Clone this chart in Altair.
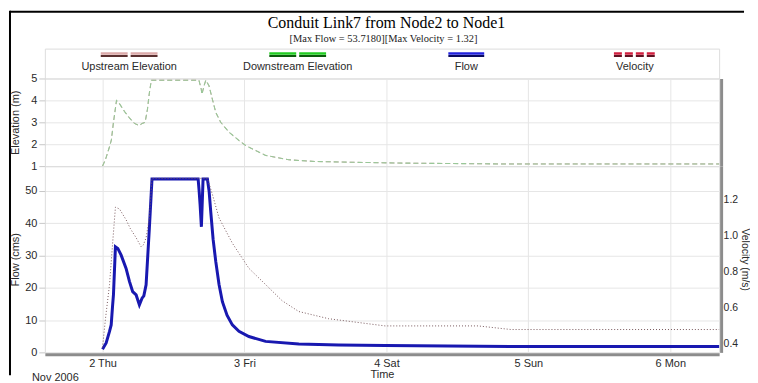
import altair as alt
import pandas as pd

TITLE = "Conduit Link7 from Node2 to Node1"
SUBTITLE = "[Max Flow = 53.7180][Max Velocity = 1.32]"
LEGEND_NAMES = ["Upstream Elevation", "Downstream Elevation", "Flow", "Velocity"]
DATE_NOTE = "Nov 2006"
X_TITLE = "Time"
ELEV_TITLE = "Elevation (m)"
FLOW_TITLE = "Flow (cms)"
VEL_TITLE = "Velocity (m/s)"
DAY_TICKS = [2, 3, 4, 5, 6]
ELEV_TICKS = [1, 2, 3, 4, 5]
FLOW_TICKS = [0, 10, 20, 30, 40, 50]
VEL_TICKS = [0.4, 0.6, 0.8, 1.0, 1.2]

elev_time = [
    "2006-11-02T00:00", "2006-11-02T00:30", "2006-11-02T01:12", "2006-11-02T01:30",
    "2006-11-02T01:51", "2006-11-02T02:22", "2006-11-02T02:52", "2006-11-02T03:42",
    "2006-11-02T04:33", "2006-11-02T05:24", "2006-11-02T06:12", "2006-11-02T06:42",
    "2006-11-02T07:12", "2006-11-02T07:36", "2006-11-02T07:54", "2006-11-02T08:15",
    "2006-11-02T16:18", "2006-11-02T16:42", "2006-11-02T16:48", "2006-11-02T17:12",
    "2006-11-02T17:28", "2006-11-02T18:00", "2006-11-02T18:34", "2006-11-02T19:09",
    "2006-11-02T19:59", "2006-11-02T21:23", "2006-11-02T23:04", "2006-11-03T00:12",
    "2006-11-03T03:34", "2006-11-03T07:30", "2006-11-03T12:00", "2006-11-03T17:36",
    "2006-11-04T02:00", "2006-11-04T10:24", "2006-11-04T18:54", "2006-11-06T08:15",
]
upstream_elev = [
    1.0, 1.3, 1.9, 2.2, 3.0, 4.0, 3.85, 3.5, 3.2, 2.95, 2.85, 2.95,
    3.0, 3.6, 4.3, 4.92, 4.92, 4.5, 4.27, 4.7, 4.92, 4.67, 4.06, 3.45,
    3.0, 2.55, 2.17, 1.94, 1.49, 1.29, 1.21, 1.18, 1.14, 1.12, 1.10, 1.10,
]
downstream_elev = [
    1.0, 1.3, 1.9, 2.2, 3.0, 4.0, 3.85, 3.5, 3.2, 2.95, 2.85, 2.95,
    3.0, 3.6, 4.3, 4.92, 4.92, 4.5, 4.27, 4.7, 4.92, 4.67, 4.06, 3.45,
    3.0, 2.55, 2.17, 1.94, 1.49, 1.29, 1.21, 1.18, 1.14, 1.12, 1.10, 1.10,
]

flow_time = [
    "2006-11-02T00:00", "2006-11-02T00:37", "2006-11-02T01:11", "2006-11-02T01:28",
    "2006-11-02T01:41", "2006-11-02T01:51", "2006-11-02T02:11", "2006-11-02T02:35",
    "2006-11-02T03:09", "2006-11-02T03:59", "2006-11-02T04:33", "2006-11-02T05:06",
    "2006-11-02T05:41", "2006-11-02T06:14", "2006-11-02T06:41", "2006-11-02T06:59",
    "2006-11-02T07:22", "2006-11-02T07:55", "2006-11-02T08:22", "2006-11-02T16:10",
    "2006-11-02T16:20", "2006-11-02T16:30", "2006-11-02T16:43", "2006-11-02T16:50",
    "2006-11-02T17:00", "2006-11-02T17:44", "2006-11-02T18:01", "2006-11-02T18:18",
    "2006-11-02T18:42", "2006-11-02T19:09", "2006-11-02T19:42", "2006-11-02T20:16",
    "2006-11-02T21:03", "2006-11-02T21:57", "2006-11-02T23:04", "2006-11-03T00:45",
    "2006-11-03T03:34", "2006-11-03T09:11", "2006-11-03T15:55", "2006-11-03T23:47",
    "2006-11-04T10:24", "2006-11-04T21:03", "2006-11-06T08:15",
]
flow_value = [
    1.0, 2.9, 6.5, 8.5, 14.0, 17.9, 32.7, 32.2, 30.1, 26.0, 22.0, 18.8,
    17.8, 14.7, 16.8, 17.5, 20.9, 38.4, 53.7, 53.7, 50.0, 45.7, 38.9, 45.0,
    53.7, 53.7, 50.0, 43.5, 35.0, 28.1, 21.0, 15.7, 11.5, 8.5, 6.5, 4.9,
    3.4, 2.6, 2.3, 2.1, 1.95, 1.85, 1.85,
]

vel_time = [
    "2006-11-02T00:00", "2006-11-02T00:30", "2006-11-02T01:11", "2006-11-02T01:44",
    "2006-11-02T02:11", "2006-11-02T02:52", "2006-11-02T03:59", "2006-11-02T04:43",
    "2006-11-02T05:41", "2006-11-02T06:31", "2006-11-02T06:54", "2006-11-02T07:22",
    "2006-11-02T07:55", "2006-11-02T08:22", "2006-11-02T17:44", "2006-11-02T18:35",
    "2006-11-02T19:42", "2006-11-02T21:57", "2006-11-03T00:45", "2006-11-03T03:34",
    "2006-11-03T06:22", "2006-11-03T09:11", "2006-11-03T14:14", "2006-11-03T23:47",
    "2006-11-04T15:30", "2006-11-04T21:03", "2006-11-06T08:15",
]
vel_value = [
    0.38, 0.54, 0.73, 0.97, 1.16, 1.15, 1.09, 1.04, 0.99, 0.94, 0.95, 0.99,
    1.10, 1.32, 1.32, 1.23, 1.10, 0.96, 0.82, 0.73, 0.64, 0.58, 0.54, 0.50,
    0.50, 0.48, 0.48,
]

# ---------------------------------------------------------------- layout
W = 677
H_HEAD = 30
H_ELEV = 88
H_FLOW = 187
FONT = "Liberation Sans"
SERIF = "Liberation Serif"
TXT = "#2a2a2a"
GRID = "#e6e6e6"
BAR = "#8c8c8c"

x_scale = alt.Scale(domain=[
    alt.DateTime(year=2006, month=11, date=1, hours=14, minutes=15),
    alt.DateTime(year=2006, month=11, date=6, hours=8, minutes=15),
])
day_values = [alt.DateTime(year=2006, month=11, date=d) for d in DAY_TICKS]

# ---------------------------------------------------------------- header
legend_df = pd.DataFrame({"name": LEGEND_NAMES})
leg_x = alt.X("name:N", scale=alt.Scale(type="point", domain=LEGEND_NAMES, padding=0.5), axis=None)
leg_base = alt.Chart(legend_df).encode(x=leg_x, x2=alt.X2("name"))

swatch_styles = [
    # name, main colour, shadow colour, half width, dash
    (LEGEND_NAMES[0], "#dcaaaa", "#5a3030", 28.5, [27, 3]),
    (LEGEND_NAMES[1], "#22cc22", "#0a5a0a", 28.5, [27, 3]),
    (LEGEND_NAMES[2], "#2222dd", "#0a0a60", 18, None),
    (LEGEND_NAMES[3], "#d02040", "#601020", 21, [8, 3]),
]
swatch_layers = []
for name, col, shadow, half, dash in swatch_styles:
    b = leg_base.transform_filter(alt.datum.name == name)
    kw_s = dict(color=shadow, strokeWidth=2, xOffset=-half, x2Offset=half)
    kw_m = dict(color=col, strokeWidth=2.5, xOffset=-half, x2Offset=half)
    if dash:
        kw_s["strokeDash"] = dash
        kw_m["strokeDash"] = dash
    swatch_layers.append(b.mark_rule(**kw_s).encode(y=alt.value(7.5)))
    swatch_layers.append(b.mark_rule(**kw_m).encode(y=alt.value(5)))

leg_labels = alt.Chart(legend_df).mark_text(
    font=FONT, fontSize=11, color=TXT, baseline="alphabetic", align="center"
).encode(x=leg_x, text="name:N", y=alt.value(21))

title_mark = alt.Chart(pd.DataFrame({"t": [TITLE]})).mark_text(
    font=SERIF, fontSize=16, color="black", baseline="alphabetic", align="center"
).encode(text="t:N", x=alt.value(343), y=alt.value(-21))
subtitle_mark = alt.Chart(pd.DataFrame({"t": [SUBTITLE]})).mark_text(
    font=SERIF, fontSize=10.5, color="#222", baseline="alphabetic", align="center"
).encode(text="t:N", x=alt.value(340), y=alt.value(-7))

frame_top = alt.Chart(pd.DataFrame({"a": [0]})).mark_rule(color="black", strokeWidth=2).encode(
    x=alt.value(-35), x2=alt.value(702), y=alt.value(-37))
frame_left = alt.Chart(pd.DataFrame({"a": [0]})).mark_rule(color="black", strokeWidth=2).encode(
    x=alt.value(-35), y=alt.value(-38), y2=alt.value(328))

header = alt.layer(
    frame_top, frame_left, title_mark, subtitle_mark, *swatch_layers, leg_labels
).properties(width=W, height=H_HEAD)

# ---------------------------------------------------------------- elevation panel
elev_df = pd.DataFrame({"time": elev_time, "up": upstream_elev, "down": downstream_elev})
x_grid_only = alt.X("time:T", scale=x_scale, axis=alt.Axis(
    values=day_values, labels=False, ticks=False, domain=False, title=None,
    grid=True, gridColor=GRID))
elev_scale = alt.Scale(domain=[1, 5])
left_axis_common = dict(
    labelFont=FONT, labelFontSize=11, labelColor=TXT, tickColor="#c8c8c8", tickSize=6,
    labelPadding=2, domain=False, grid=True, gridColor=GRID,
    titleFont=FONT, titleFontSize=11, titleFontWeight="normal", titleColor=TXT,
    titleX=-29, titleBaseline="middle",
)
up_line = alt.Chart(elev_df).mark_line(
    color="#c8a0a0", strokeWidth=1, strokeDash=[5, 3]
).encode(
    x=x_grid_only,
    y=alt.Y("up:Q", scale=elev_scale, axis=alt.Axis(values=ELEV_TICKS, title=ELEV_TITLE, **left_axis_common)),
)
down_line = alt.Chart(elev_df).mark_line(
    color="#98c898", strokeWidth=1.1, strokeDash=[5, 3]
).encode(
    x=x_grid_only,
    y=alt.Y("down:Q", scale=elev_scale, axis=alt.Axis(
        orient="right", labels=False, ticks=False, grid=False, title=None,
        domainColor=BAR, domainWidth=3, offset=2)),
)
elev_panel = alt.layer(up_line, down_line).resolve_axis(y="independent").properties(width=W, height=H_ELEV)

# ---------------------------------------------------------------- flow / velocity panel
flow_df = pd.DataFrame({"time": flow_time, "flow": flow_value})
vel_df = pd.DataFrame({"time": vel_time, "vel": vel_value})

x_main = alt.X("time:T", scale=x_scale, axis=alt.Axis(
    values=day_values, format="%-d %a", title=X_TITLE, grid=True, gridColor=GRID,
    ticks=False, tickSize=0, domainColor=BAR, domainWidth=3, offset=2, labelPadding=3,
    labelFont=FONT, labelFontSize=11, labelColor=TXT,
    titleFont=FONT, titleFontSize=11, titleFontWeight="normal", titleColor=TXT, titlePadding=0))

vel_line = alt.Chart(vel_df).mark_line(
    color="#7a5a5e", strokeWidth=1, strokeDash=[1, 2]
).encode(
    x=x_main,
    y=alt.Y("vel:Q", scale=alt.Scale(domain=[0.353, 1.388]), axis=alt.Axis(
        orient="right", values=VEL_TICKS, format=".1f", title=VEL_TITLE, grid=False,
        ticks=False, tickSize=0, labelPadding=2, domainColor=BAR, domainWidth=3, offset=2,
        labelFont=FONT, labelFontSize=10.5, labelColor=TXT,
        titleFont=FONT, titleFontSize=10.5, titleFontWeight="normal", titleColor=TXT,
        titleX=23.5, titleBaseline="middle", titleAngle=90)),
)
flow_line = alt.Chart(flow_df).mark_line(color="#1818b0", strokeWidth=3).encode(
    x=x_main,
    y=alt.Y("flow:Q", scale=alt.Scale(domain=[0, 57.7]), axis=alt.Axis(
        values=FLOW_TICKS, title=FLOW_TITLE, orient="left", **left_axis_common)),
)
note = alt.Chart(pd.DataFrame({"t": [DATE_NOTE]})).mark_text(
    font=FONT, fontSize=11, color=TXT, align="left", baseline="alphabetic"
).encode(text="t:N", x=alt.value(-13), y=alt.value(216))

flow_panel = alt.layer(flow_line, vel_line, note).resolve_scale(y="independent").properties(width=W, height=H_FLOW)

chart = alt.vconcat(header, elev_panel, flow_panel, spacing=0, bounds="flush").properties(
    padding={"left": 0, "top": 0, "right": 0, "bottom": 0}
).configure_view(stroke="transparent").configure(background="white")

chart.save("out.html", embed_options={"renderer": "svg", "actions": False})
